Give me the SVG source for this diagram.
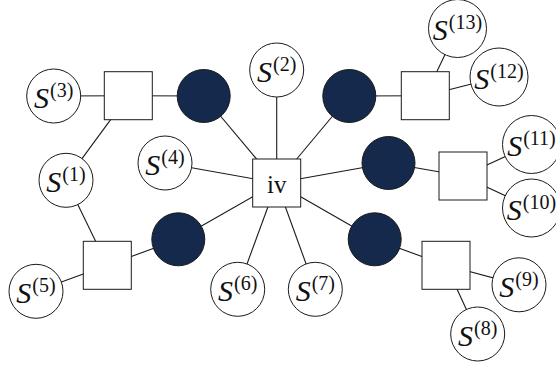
<svg xmlns="http://www.w3.org/2000/svg" width="556" height="367" viewBox="0 0 556 367">
<style>
.e{stroke:#1a1a1a;stroke-width:1.1;fill:none}
.s{fill:#fff;stroke:#1a1a1a;stroke-width:1}
.d{fill:#14294b;stroke:#1a1a1a;stroke-width:1}
.q{fill:#fff;stroke:#1a1a1a;stroke-width:1}
.t{font-family:"Liberation Serif","Times New Roman",serif;font-size:30px;fill:#111;text-anchor:middle}
.i{font-style:italic}
.p{font-size:20px}
.r{font-family:"Liberation Serif","Times New Roman",serif;font-size:25px;fill:#111;text-anchor:middle}
</style>
<rect width="556" height="367" fill="#fff"/>
<g id="connectors">
<line class="e" x1="53.7" y1="96" x2="128.3" y2="95.7"/>
<line class="e" x1="128.3" y1="95.7" x2="203.7" y2="96"/>
<line class="e" x1="203.7" y1="96" x2="276.7" y2="183"/>
<line class="e" x1="276.7" y1="70" x2="276.7" y2="183"/>
<line class="e" x1="349.3" y1="96" x2="276.7" y2="183"/>
<line class="e" x1="349.3" y1="96" x2="425.3" y2="95.7"/>
<line class="e" x1="425.3" y1="95.7" x2="457.5" y2="28.5"/>
<line class="e" x1="425.3" y1="95.7" x2="499" y2="77"/>
<line class="e" x1="165" y1="163" x2="276.7" y2="183"/>
<line class="e" x1="388.5" y1="163" x2="276.7" y2="183"/>
<line class="e" x1="388.5" y1="163" x2="463" y2="176"/>
<line class="e" x1="463" y1="176" x2="531.5" y2="144.5"/>
<line class="e" x1="463" y1="176" x2="531.5" y2="208"/>
<line class="e" x1="128.3" y1="95.7" x2="66" y2="180.3"/>
<line class="e" x1="66" y1="180.3" x2="107.3" y2="265.3"/>
<line class="e" x1="36" y1="291.3" x2="107.3" y2="265.3"/>
<line class="e" x1="107.3" y1="265.3" x2="178.3" y2="239.3"/>
<line class="e" x1="178.3" y1="239.3" x2="276.7" y2="183"/>
<line class="e" x1="276.7" y1="183" x2="237.7" y2="289.3"/>
<line class="e" x1="276.7" y1="183" x2="315.3" y2="289.3"/>
<line class="e" x1="276.7" y1="183" x2="374.7" y2="239.3"/>
<line class="e" x1="374.7" y1="239.3" x2="446" y2="265.3"/>
<line class="e" x1="446" y1="265.3" x2="519" y2="284.8"/>
<line class="e" x1="446" y1="265.3" x2="477.7" y2="334"/>
</g>
<g id="sqTL"><rect class="q" x="104.3" y="71.7" width="48" height="48"/></g>
<g id="sqTR"><rect class="q" x="401.3" y="71.7" width="48" height="48"/></g>
<g id="sqR"><rect class="q" x="439" y="152" width="48" height="48"/></g>
<g id="sqBL"><rect class="q" x="83.3" y="241.3" width="48" height="48"/></g>
<g id="sqBR"><rect class="q" x="422" y="241.3" width="48" height="48"/></g>
<g id="iv"><rect class="q" x="252.7" y="159" width="48" height="48"/><text class="r" x="276.7" y="192.5">iv</text></g>
<g id="dTL"><circle class="d" cx="203.7" cy="96" r="26.5"/></g>
<g id="dTR"><circle class="d" cx="349.3" cy="96" r="26.5"/></g>
<g id="dR"><circle class="d" cx="388.5" cy="163" r="26.5"/></g>
<g id="dBL"><circle class="d" cx="178.3" cy="239.3" r="26.5"/></g>
<g id="dBR"><circle class="d" cx="374.7" cy="239.3" r="26.5"/></g>
<g id="S1"><circle class="s" cx="66" cy="180.3" r="27"/><text class="t" x="66" y="192"><tspan class="i">S</tspan><tspan class="p" dx="1" dy="-11">(1)</tspan></text></g>
<g id="S2"><circle class="s" cx="276.7" cy="70" r="27"/><text class="t" x="276.7" y="81.7"><tspan class="i">S</tspan><tspan class="p" dx="1" dy="-11">(2)</tspan></text></g>
<g id="S3"><circle class="s" cx="53.7" cy="96" r="27"/><text class="t" x="53.7" y="107.7"><tspan class="i">S</tspan><tspan class="p" dx="1" dy="-11">(3)</tspan></text></g>
<g id="S4"><circle class="s" cx="165" cy="163" r="27"/><text class="t" x="165" y="174.7"><tspan class="i">S</tspan><tspan class="p" dx="1" dy="-11">(4)</tspan></text></g>
<g id="S5"><circle class="s" cx="36" cy="291.3" r="27"/><text class="t" x="36" y="303"><tspan class="i">S</tspan><tspan class="p" dx="1" dy="-11">(5)</tspan></text></g>
<g id="S6"><circle class="s" cx="237.7" cy="289.3" r="27"/><text class="t" x="237.7" y="301"><tspan class="i">S</tspan><tspan class="p" dx="1" dy="-11">(6)</tspan></text></g>
<g id="S7"><circle class="s" cx="315.3" cy="289.3" r="27"/><text class="t" x="315.3" y="301"><tspan class="i">S</tspan><tspan class="p" dx="1" dy="-11">(7)</tspan></text></g>
<g id="S8"><circle class="s" cx="477.7" cy="334" r="27"/><text class="t" x="477.7" y="345.7"><tspan class="i">S</tspan><tspan class="p" dx="1" dy="-11">(8)</tspan></text></g>
<g id="S9"><circle class="s" cx="519" cy="284.8" r="27"/><text class="t" x="519" y="296.5"><tspan class="i">S</tspan><tspan class="p" dx="1" dy="-11">(9)</tspan></text></g>
<g id="S10"><circle class="s" cx="531.5" cy="208" r="29"/><text class="t" x="531.5" y="219.7"><tspan class="i">S</tspan><tspan class="p" dx="1" dy="-11">(10)</tspan></text></g>
<g id="S11"><circle class="s" cx="531.5" cy="144.5" r="29"/><text class="t" x="531.5" y="156.2"><tspan class="i">S</tspan><tspan class="p" dx="1" dy="-11">(11)</tspan></text></g>
<g id="S12"><circle class="s" cx="499" cy="77" r="29"/><text class="t" x="499" y="88.7"><tspan class="i">S</tspan><tspan class="p" dx="1" dy="-11">(12)</tspan></text></g>
<g id="S13"><circle class="s" cx="457.5" cy="28.5" r="29"/><text class="t" x="457.5" y="40.2"><tspan class="i">S</tspan><tspan class="p" dx="1" dy="-11">(13)</tspan></text></g>
</svg>
